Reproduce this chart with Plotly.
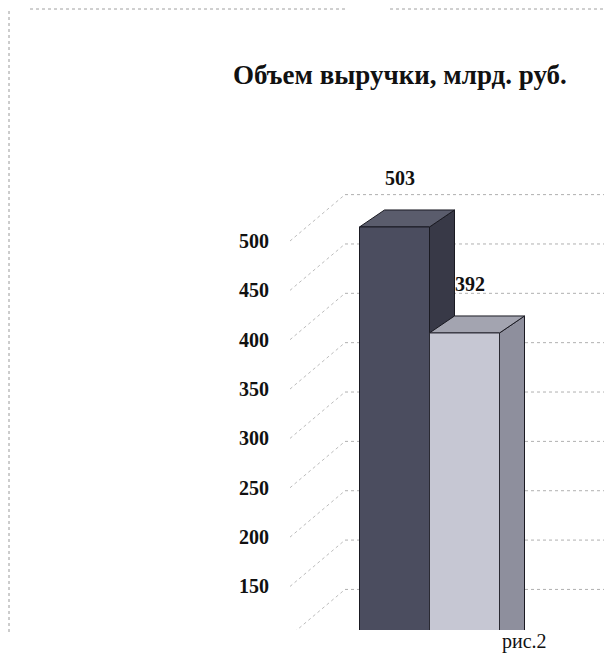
import plotly.graph_objects as go

# ---------------- data ----------------
categories = [0, 1]                 # category positions (labels not visible in the crop)
series_a = [503, 470]               # dark series
series_b = [392, None]              # light series (second value not visible)
label_ticks = [150, 200, 250, 300, 350, 400, 450, 500]
grid_ticks = [100, 150, 200, 250, 300, 350, 400, 450, 500]
title_text = "Объем выручки, млрд. руб."
caption_text = "рис.2"

# ---------------- style ----------------
OFF = 8                      # browser body margin
W, H = 612 - 2 * OFF, 653 - OFF
PL, PT, PB = 280, 150, 630   # plot area in page pixels
PR = OFF + W                 # right edge of figure in page pixels
ML, MR, MT, MB = PL - OFF, 0, PT - OFF, H - (PB - OFF)
pw, ph = W - ML - MR, H - MT - MB
UNIT = 250                   # pixels per category step
CX0 = 429.5                  # page x of first category centre


def px(xp):
    return (xp - PL) / pw


def py(yp):
    return (PB - yp) / ph


bar_w = 0.28
depth_x = 0.10            # 3D depth in x units
depth_y = 17.8            # 3D depth in bar-axis units
grid_depth = 47           # back-wall offset in label-axis units
x_range = [(PL - CX0) / UNIT, (PR - CX0) / UNIT]
y_bar_range = [81, 583.6]
y_lab_range = [105.9, 592.2]

dark = dict(front="#4b4d5f", side="#383947", top="#5a5c6c")
light = dict(front="#c6c7d3", side="#8e8f9d", top="#a3a4b0")
serif = "Liberation Serif, Times New Roman, serif"

xa = [c - bar_w / 2 for c in categories]
xb = [c + bar_w / 2 for c in categories]

fig = go.Figure()
fig.add_trace(go.Bar(x=xa, y=series_a, width=bar_w, yaxis="y",
                     marker=dict(color=dark["front"], line=dict(color="#1a1a22", width=1)),
                     hoverinfo="y", showlegend=False))
fig.add_trace(go.Bar(x=xb, y=series_b, width=bar_w, yaxis="y",
                     marker=dict(color=light["front"], line=dict(color="#2a2a33", width=1)),
                     hoverinfo="y", showlegend=False))
# invisible trace to activate label axis
fig.add_trace(go.Scatter(x=[x_range[0]], y=[label_ticks[0]], yaxis="y2", mode="markers",
                         marker=dict(opacity=0), hoverinfo="skip", showlegend=False))

shapes = []
# back-wall gridlines and side-wall diagonals (label-axis coordinates)
for v in grid_ticks:
    shapes.append(dict(type="line", xref="paper", yref="y2",
                       x0=px(345), x1=1.0, y0=v + grid_depth, y1=v + grid_depth,
                       line=dict(color="#b0b0b0", width=1, dash="dot"), layer="below"))
    shapes.append(dict(type="line", xref="paper", yref="y2",
                       x0=px(290), x1=px(345), y0=v, y1=v + grid_depth,
                       line=dict(color="#bcbcbc", width=1, dash="dot"), layer="below"))


def faces(x_left, val, col, base):
    x_right = x_left + bar_w
    side = dict(type="path", xref="x", yref="y", layer="below",
                path=f"M{x_right},{base} L{x_right},{val} L{x_right+depth_x},{val+depth_y} "
                     f"L{x_right+depth_x},{base+depth_y} Z",
                fillcolor=col["side"], line=dict(color="#1a1a22", width=1))
    top = dict(type="path", xref="x", yref="y", layer="below",
               path=f"M{x_left},{val} L{x_right},{val} L{x_right+depth_x},{val+depth_y} "
                    f"L{x_left+depth_x},{val+depth_y} Z",
               fillcolor=col["top"], line=dict(color="#1a1a22", width=1))
    return [side, top]


base = y_bar_range[0] - 30
for i, c in enumerate(categories):
    if series_a[i] is not None:
        shapes += faces(c - bar_w, series_a[i], dark, base)
    if series_b[i] is not None:
        shapes += faces(c, series_b[i], light, base)

# frame of the scanned chart area
shapes.append(dict(type="line", xref="paper", yref="paper",
                   x0=px(9), x1=px(9), y0=py(632), y1=py(8),
                   line=dict(color="#9a9a9a", width=1, dash="dot")))
shapes.append(dict(type="line", xref="paper", yref="paper",
                   x0=px(30), x1=px(345), y0=py(9), y1=py(9),
                   line=dict(color="#a0a0a0", width=1, dash="dot")))
shapes.append(dict(type="line", xref="paper", yref="paper",
                   x0=px(390), x1=1.0, y0=py(9), y1=py(9),
                   line=dict(color="#a0a0a0", width=1, dash="dot")))

annotations = []
for i, c in enumerate(categories):
    for xs, vals in ((xa, series_a), (xb, series_b)):
        v = vals[i]
        if v is None:
            continue
        annotations.append(dict(x=xs[i], y=v, xref="x", yref="y", text=f"<b>{v}</b>",
                                showarrow=False, yshift=49, xshift=5,
                                font=dict(family=serif, size=20, color="#111")))
annotations.append(dict(x=px(400), y=py(75), xref="paper", yref="paper",
                        text=f"<b>{title_text}</b>", showarrow=False,
                        xanchor="center", yanchor="middle",
                        font=dict(family=serif, size=27, color="#111")))
annotations.append(dict(x=px(524), y=py(641), xref="paper", yref="paper",
                        text=caption_text, showarrow=False,
                        xanchor="center", yanchor="middle",
                        font=dict(family=serif, size=20, color="#111")))

fig.update_layout(
    width=W, height=H,
    margin=dict(l=ML, r=MR, t=MT, b=MB, pad=0),
    paper_bgcolor="white", plot_bgcolor="white",
    barmode="overlay",
    xaxis=dict(range=x_range, showgrid=False, zeroline=False, showticklabels=False,
               showline=False, fixedrange=True),
    yaxis=dict(range=y_bar_range, showgrid=False, zeroline=False, showticklabels=False,
               showline=False, fixedrange=True),
    yaxis2=dict(range=y_lab_range, overlaying="y", side="left", tickvals=label_ticks,
                showgrid=False, zeroline=False, showline=False, ticks="",
                ticklabelstandoff=10,
                tickfont=dict(family=serif, size=20, color="#111", weight="bold"),
                fixedrange=True),
    shapes=shapes,
    annotations=annotations,
)

fig.write_html("out.html")
